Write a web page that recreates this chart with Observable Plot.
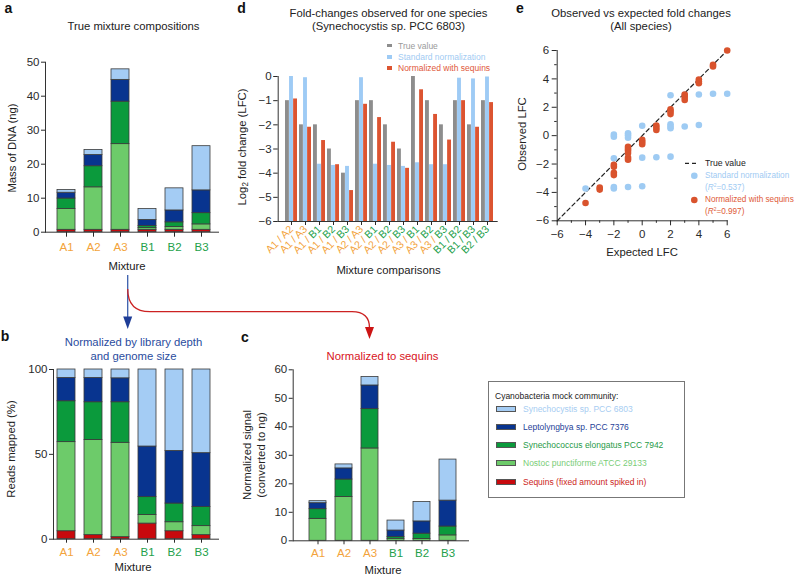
<!DOCTYPE html>
<html><head><meta charset="utf-8">
<script src="https://cdn.jsdelivr.net/npm/d3@7"></script>
<script src="https://cdn.jsdelivr.net/npm/@observablehq/plot@0.6"></script>
<style>
body{margin:0;background:#fff;}
#root{position:relative;width:796px;height:576px;overflow:hidden;font-family:"Liberation Sans",Arial,sans-serif;background:#fff;}
.t{position:absolute;white-space:nowrap;line-height:1;}
.box{position:absolute;border:1px solid #777;box-sizing:border-box;}
.sw{position:absolute;border:1px solid #555;box-sizing:border-box;}
</style></head>
<body><div id="root"></div>
<script>
// ---------- data ----------
const mixtures = ["A1","A2","A3","B1","B2","B3"];
const species = ["Sequins (fixed amount spiked in)","Nostoc punctiforme ATCC 29133","Synechococcus elongatus PCC 7942","Leptolyngbya sp. PCC 7376","Synechocystis sp. PCC 6803"];
const speciesColors = ["#c8090d","#6dcb6a","#0b9a3c","#08348f","#a4ccf4"];

// panel a: true mass of DNA (ng), per species, per mixture
const massSequins       = [0.7,0.7,0.7,0.7,0.7,0.7];
const massNostoc        = [6.1,12.5,25.2,0.5,0.8,1.6];
const massSynechococcus = [3.1,6.2,12.5,0.6,1.4,3.3];
const massLeptolyngbya  = [1.7,3.3,6.4,1.8,3.5,6.7];
const massSynechocystis = [0.8,1.5,3.1,3.2,6.5,13.0];
const massTicks = [0,10,20,30,40,50];

// panel b: reads mapped (%)
const readsSequins       = [4.7,2.4,1.2,9.2,4.7,2.4];
const readsNostoc        = [52.5,56.1,55.6,5.1,5.3,5.3];
const readsSynechococcus = [24.1,22.2,23.9,10.5,11.0,11.3];
const readsLeptolyngbya  = [13.7,14.3,14.1,29.8,31.0,31.7];
const readsSynechocystis = [5.0,5.0,5.2,45.4,48.0,49.3];
const readsTicks = [0,50,100];

// panel c: normalized signal (converted to ng)
const signalNostoc        = [7.7,15.4,32.4,0.7,0.6,1.9];
const signalSynechococcus = [3.4,6.1,13.8,0.6,1.9,3.1];
const signalLeptolyngbya  = [2.1,3.9,8.3,2.3,4.3,9.1];
const signalSynechocystis = [0.7,1.4,3.0,3.5,6.8,14.4];
const signalTicks = [0,10,20,30,40,50,60];

// panel d: log2 fold changes for Synechocystis
const comparisons = ["A1 / A2","A1 / A3","A1 / B1","A1 / B2","A1 / B3","A2 / A3","A2 / B1","A2 / B2","A2 / B3","A3 / B1","A3 / B2","A3 / B3","B1 / B2","B1 / B3","B2 / B3"];
const trueLFC     = [-1,-2,-2,-3,-4,-1,-1,-2,-3,0,-1,-2,-1,-2,-1];
const standardLFC = [0,-0.05,-3.63,-3.68,-3.72,-0.05,-3.63,-3.68,-3.72,-3.57,-3.65,-3.65,-0.07,-0.1,-0.02];
const sequinLFC   = [-0.93,-2.1,-2.65,-3.65,-4.72,-1.15,-1.7,-2.72,-3.8,-0.55,-1.57,-2.63,-1.0,-2.1,-1.08];
const lfcTicks = [-6,-5,-4,-3,-2,-1,0];

// panel e: observed vs expected LFC (all species)
const stdExpected = [-4,-2,-2,-2,-2,-2,-1,-1,-1,-1,0,0,0,1,2,2,2,2,2,3,3,4,4,5,6];
const stdObserved = [-3.72,0.07,-0.08,-1.6,-3.62,-3.72,0.17,0.03,-0.15,-3.62,0.7,-1.55,-3.57,-1.52,-1.48,2.85,0.8,0.65,0.52,0.65,2.88,0.75,2.9,2.95,2.95];
const seqExpected = [-4,-3,-3,-2,-2,-2,-2,-1,-1,-1,-1,-1,-1,0,0,0,1,1,1,2,2,2,3,3,3,4,4,4,5,5,6];
const seqObserved = [-4.75,-3.65,-3.8,-2.05,-2.2,-2.62,-2.78,-0.78,-0.92,-1.05,-1.22,-1.55,-1.7,-0.3,-0.45,-0.6,0.72,0.55,0.4,1.85,1.7,1.52,2.9,2.72,2.52,3.95,3.82,3.7,5.0,4.88,6.0];
const identityLine = [-6,6];
const majorTicks = [-6,-4,-2,0,2,4,6];
const minorTicks = [-5,-3,-1,1,3,5];

// ---------- helpers ----------
const ORANGE = "#f3a33b", GREEN = "#23a04a";
const FONT = '"Liberation Sans", Arial, sans-serif';
const TICKFONT = 11.5;
const root = document.getElementById("root");
const W = 796, H = 576;
const intFmt = d3.format("d");
const noText = () => "";

function tidy(arrays) {
  return arrays.flatMap((arr, i) => arr.map((v, j) => ({mixture: mixtures[j], species: species[i], value: v})));
}
function colorLabels(svg) {
  svg.querySelectorAll("text").forEach(t => {
    const s = t.textContent;
    if (!/^[AB]\d( \/ [AB]\d)?$/.test(s)) return;
    const parts = s.split(" / ");
    while (t.firstChild) t.removeChild(t.firstChild);
    parts.forEach((p, i) => {
      const ts = document.createElementNS("http://www.w3.org/2000/svg", "tspan");
      ts.setAttribute("fill", p[0] === "A" ? ORANGE : GREEN);
      ts.textContent = i < parts.length - 1 ? p + " / " : p;
      t.appendChild(ts);
    });
  });
}
function layer(options) {
  const svg = Plot.plot({width: W, height: H, ...options,
    style: {background: "transparent", fontFamily: FONT, fontSize: TICKFONT + "px", color: "#2a2a2a", overflow: "visible", position: "absolute", left: "0px", top: "0px", maxWidth: "none"}});
  root.appendChild(svg);
  colorLabels(svg);
  return svg;
}
function label(text, x, y, {size = 11.3, color = "#222", weight = "normal", anchor = "middle", rotate = 0, html = false} = {}) {
  const el = document.createElement("div");
  el.className = "t";
  el.style.left = x + "px"; el.style.top = y + "px";
  el.style.fontSize = size + "px"; el.style.color = color; el.style.fontWeight = weight;
  const tx = anchor === "middle" ? "-50%" : anchor === "end" ? "-100%" : "0%";
  el.style.transform = `translate(${tx},-50%)` + (rotate ? ` rotate(${rotate}deg)` : "");
  if (html) el.innerHTML = text; else el.textContent = text;
  root.appendChild(el);
  return el;
}
const axisStyle = {stroke: "#333"};

// ---------- panel a ----------
layer({
  marginLeft: 45, marginRight: W - 218, marginTop: 61.7, marginBottom: H - 231.7,
  x: {type: "band", domain: mixtures, range: [52.5, 214.5], paddingInner: 0.35, paddingOuter: 0.175, label: null},
  y: {domain: [0, 50], label: null},
  color: {domain: species, range: speciesColors},
  marks: [
    Plot.barY(tidy([massSequins, massNostoc, massSynechococcus, massLeptolyngbya, massSynechocystis]),
      {x: "mixture", y: "value", fill: "species", stroke: "#3a3a3a", strokeWidth: 0.8}),
    Plot.frame({anchor: "left", ...axisStyle}),
    Plot.frame({anchor: "bottom", ...axisStyle}),
    Plot.axisY({ticks: massTicks, tickSize: 4, tickPadding: 2, label: null, tickFormat: intFmt, fontSize: TICKFONT}),
    Plot.axisX({tickSize: 5, tickPadding: 6, label: null, fontSize: TICKFONT})
  ]
});

// ---------- panel b ----------
layer({
  marginLeft: 53, marginRight: W - 218, marginTop: 369, marginBottom: H - 538.7,
  x: {type: "band", domain: mixtures, range: [52.5, 214.5], paddingInner: 0.33, paddingOuter: 0.165, label: null},
  y: {domain: [0, 100], label: null},
  color: {domain: species, range: speciesColors},
  marks: [
    Plot.barY(tidy([readsSequins, readsNostoc, readsSynechococcus, readsLeptolyngbya, readsSynechocystis]),
      {x: "mixture", y: "value", fill: "species", stroke: "#3a3a3a", strokeWidth: 0.8}),
    Plot.frame({anchor: "left", ...axisStyle}),
    Plot.frame({anchor: "bottom", ...axisStyle}),
    Plot.axisY({ticks: readsTicks, tickSize: 4, tickPadding: 2, label: null, tickFormat: intFmt, fontSize: TICKFONT}),
    Plot.axisX({tickSize: 4, tickPadding: 4.5, label: null, fontSize: TICKFONT})
  ]
});

// ---------- panel c ----------
layer({
  marginLeft: 292.7, marginRight: W - 468, marginTop: 369.3, marginBottom: H - 540.3,
  x: {type: "band", domain: mixtures, range: [302.3, 463.6], paddingInner: 0.33, paddingOuter: 0.165, label: null},
  y: {domain: [0, 60], label: null},
  color: {domain: species.slice(1), range: speciesColors.slice(1)},
  marks: [
    Plot.barY(tidy([[], signalNostoc, signalSynechococcus, signalLeptolyngbya, signalSynechocystis]),
      {x: "mixture", y: "value", fill: "species", stroke: "#3a3a3a", strokeWidth: 0.8}),
    Plot.frame({anchor: "left", ...axisStyle}),
    Plot.frame({anchor: "bottom", ...axisStyle}),
    Plot.axisY({ticks: signalTicks, tickSize: 4, tickPadding: 2, label: null, tickFormat: intFmt, fontSize: TICKFONT}),
    Plot.axisX({tickSize: 4, tickPadding: 4.5, label: null, fontSize: TICKFONT})
  ]
});

// ---------- panel d ----------
const dRows = comparisons.map((c, i) => ({comparison: c, trueV: trueLFC[i], std: standardLFC[i], seq: sequinLFC[i]}));
const third = 4.06;
layer({
  marginLeft: 277.7, marginRight: W - 496.7, marginTop: 76, marginBottom: H - 221,
  x: {type: "band", domain: comparisons, range: [280.05, 497.55], paddingInner: 0.16, paddingOuter: 0.08, label: null},
  y: {domain: [lfcTicks[0], 0], label: null},
  marks: [
    Plot.barY(dRows, {x: "comparison", y1: lfcTicks[0], y2: "trueV", fill: "#8d8d8d", insetRight: 2 * third}),
    Plot.barY(dRows, {x: "comparison", y1: lfcTicks[0], y2: "std", fill: "#9ecbf5", insetLeft: third, insetRight: third}),
    Plot.barY(dRows, {x: "comparison", y1: lfcTicks[0], y2: "seq", fill: "#dc5431", insetLeft: 2 * third}),
    Plot.frame({anchor: "left", ...axisStyle}),
    Plot.frame({anchor: "bottom", ...axisStyle}),
    Plot.axisY({ticks: lfcTicks, tickSize: 4.5, tickPadding: 2, label: null, tickFormat: intFmt, fontSize: TICKFONT}),
    Plot.axisX({tickSize: 4, tickPadding: 2, tickRotate: -45, label: null, fontSize: 10.5})
  ]
});

// ---------- panel e ----------
const stdPts = stdExpected.map((x, i) => ({x, y: stdObserved[i]}));
const seqPts = seqExpected.map((x, i) => ({x, y: seqObserved[i]}));
layer({
  marginLeft: 556.7, marginRight: W - 726.7, marginTop: 50, marginBottom: H - 220.3,
  x: {domain: [-6, 6], label: null},
  y: {domain: [-6, 6], label: null},
  marks: [
    Plot.frame({anchor: "left", ...axisStyle}),
    Plot.frame({anchor: "bottom", ...axisStyle}),
    Plot.axisX({ticks: majorTicks, tickSize: 5, tickPadding: 4, label: null, tickFormat: intFmt, fontSize: TICKFONT}),
    Plot.axisX({ticks: minorTicks, tickSize: 2.5, tickFormat: noText, label: null}),
    Plot.axisY({ticks: majorTicks, tickSize: 5, tickPadding: 3, label: null, tickFormat: intFmt, fontSize: TICKFONT}),
    Plot.axisY({ticks: minorTicks, tickSize: 2.5, tickFormat: noText, label: null}),
    Plot.line(identityLine, {x: d => d, y: d => d, stroke: "#222", strokeWidth: 1.2, strokeDasharray: "4,3"}),
    Plot.dot(stdPts, {x: "x", y: "y", r: 3.3, fill: "#9ecbf3"}),
    Plot.dot(seqPts, {x: "x", y: "y", r: 3.3, fill: "#d9532d"})
  ]
});

// ---------- arrows ----------
const NS = "http://www.w3.org/2000/svg";
const arr = document.createElementNS(NS, "svg");
arr.setAttribute("width", W); arr.setAttribute("height", H);
arr.style.cssText = "position:absolute;left:0;top:0;overflow:visible";
arr.innerHTML = `
<path d="M127.7,275 L127.7,318" stroke="#3a5ead" stroke-width="1.3" fill="none"/>
<path d="M123.2,316.5 L132.2,316.5 L127.7,329 Z" fill="#1e3d97"/>
<path d="M127.7,289 Q127.7,311.7 150,311.7 L352,311.7 Q369.5,311.7 369.5,328" stroke="#cc2222" stroke-width="1.3" fill="none"/>
<path d="M365,327 L374,327 L369.5,339 Z" fill="#cc1414"/>`;
root.appendChild(arr);

// ---------- texts ----------
label("a", 8.5, 7.5, {size: 14, weight: "bold", color: "#111"});
label("b", 5, 335.5, {size: 14, weight: "bold", color: "#111"});
label("c", 245, 336.5, {size: 14, weight: "bold", color: "#111"});
label("d", 241.5, 7.5, {size: 14, weight: "bold", color: "#111"});
label("e", 520, 7.5, {size: 14, weight: "bold", color: "#111"});

label("True mixture compositions", 133.5, 27);
label("Mass of DNA (ng)", 13, 148, {rotate: -90});
label("Mixture", 127, 267);

label("Normalized by library depth", 133.5, 343, {color: "#2a4c9e"});
label("and genome size", 133.5, 357, {color: "#2a4c9e"});
label("Reads mapped (%)", 12, 448.5, {rotate: -90});
label("Mixture", 133, 568);

label("Normalized to sequins", 382.5, 356.5, {color: "#d8141c"});
label("Normalized signal", 248, 455, {rotate: -90});
label("(converted to ng)", 261.5, 455, {rotate: -90});
label("Mixture", 383, 570.5);

label("Fold-changes observed for one species", 388.5, 13.5);
label("(Synechocystis sp. PCC 6803)", 388.5, 27);
label("Log<sub style='font-size:0.72em;vertical-align:-0.25em;line-height:0'>2</sub> fold change (LFC)", 243.3, 147, {rotate: -90, html: true});
label("Mixture comparisons", 388.5, 270.5);

label("Observed vs expected fold changes", 641, 13.5);
label("(All species)", 641, 26.5);
label("Observed LFC", 522.7, 134, {rotate: -90});
label("Expected LFC", 642, 252.5);

// legend d
const dLegend = [["True value", "#8d8d8d", "#9a9a9a"], ["Standard normalization", "#9ecbf5", "#9fcbf3"], ["Normalized with sequins", "#dc5431", "#e0583a"]];
[45.7, 57, 68].forEach((y, i) => {
  const s = document.createElement("div");
  s.style.cssText = `position:absolute;left:386.7px;top:${y - 1.8}px;width:5.6px;height:3.6px;background:${dLegend[i][1]}`;
  root.appendChild(s);
  label(dLegend[i][0], 398, y, {size: 8.5, color: dLegend[i][2], anchor: "start"});
});

// legend e
const dash = document.createElementNS(NS, "svg");
dash.setAttribute("width", W); dash.setAttribute("height", H);
dash.style.cssText = "position:absolute;left:0;top:0;overflow:visible";
dash.innerHTML = `<line x1="685" x2="698" y1="163.3" y2="163.3" stroke="#222" stroke-width="1.2" stroke-dasharray="4,3"/>
<circle cx="694.3" cy="175.7" r="3.3" fill="#9ecbf3"/><circle cx="694.3" cy="200" r="3.3" fill="#d9532d"/>`;
root.appendChild(dash);
const LEGE = 8.2;
label("True value", 705, 163.3, {size: LEGE + 0.5, color: "#222", anchor: "start"});
label("Standard normalization", 705, 176, {size: LEGE, color: "#9fcbf3", anchor: "start"});
label("(<i>R</i><sup style='font-size:0.6em;vertical-align:0.5em;line-height:0'>2</sup>=0.537)", 705, 187.5, {size: LEGE, color: "#9fcbf3", anchor: "start", html: true});
label("Normalized with sequins", 705, 200, {size: LEGE, color: "#de5a37", anchor: "start"});
label("(<i>R</i><sup style='font-size:0.6em;vertical-align:0.5em;line-height:0'>2</sup>=0.997)", 705, 211.5, {size: LEGE, color: "#de5a37", anchor: "start", html: true});

// legend box
const box = document.createElement("div");
box.className = "box";
box.style.cssText += "left:488px;top:381px;width:197px;height:117px;";
root.appendChild(box);
label("Cyanobacteria mock community:", 495, 396, {size: 8.5, color: "#222", anchor: "start"});
const legendOrder = [4, 3, 2, 1, 0];
const legendTextColors = ["#cc1e22", "#79cd77", "#1f9a48", "#1f3f98", "#a7cdf2"];
[409.3, 427.3, 445.3, 463.3, 481.5].forEach((y, k) => {
  const i = legendOrder[k];
  const s = document.createElement("div");
  s.className = "sw";
  s.style.cssText += `left:496px;top:${y - 3}px;width:20px;height:6px;background:${speciesColors[i]}`;
  root.appendChild(s);
  label(species[i], 523, y, {size: 8.5, color: legendTextColors[i], anchor: "start"});
});
</script>
</body></html>
